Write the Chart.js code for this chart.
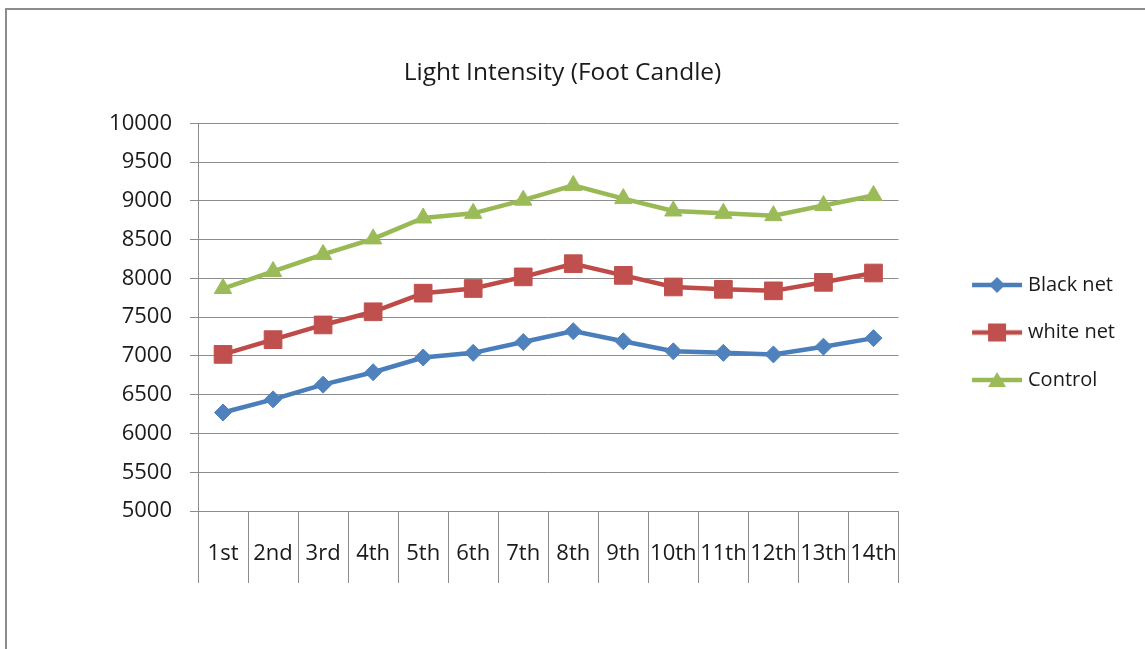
<!DOCTYPE html>
<html>
<head>
<meta charset="utf-8">
<script src="https://cdn.jsdelivr.net/npm/chart.js@4/dist/chart.umd.min.js"></script>
<style>
  html, body { margin: 0; padding: 0; background: #fff; overflow: hidden; }
  #wrap { position: relative; width: 1145px; height: 649px; }
  #frame { position: absolute; left: 5px; top: 8px; width: 1200px; height: 700px; border: 2px solid #8c8c8c; box-sizing: border-box; }
  #chart { position: absolute; left: 0; top: 0; }
</style>
</head>
<body>
<div id="wrap">
  <div id="frame"></div>
  <canvas id="chart" width="1145" height="649"></canvas>
</div>
<script>
// data
var days = ['1st','2nd','3rd','4th','5th','6th','7th','8th','9th','10th','11th','12th','13th','14th'];
var blackNet = [6270, 6440, 6630, 6790, 6980, 7040, 7180, 7320, 7190, 7060, 7040, 7020, 7120, 7230];
var whiteNet = [7020, 7210, 7400, 7570, 7810, 7870, 8020, 8190, 8040, 7890, 7860, 7840, 7950, 8070];
var control  = [7870, 8090, 8310, 8510, 8780, 8840, 9010, 9200, 9030, 8870, 8840, 8810, 8940, 9070];
var seriesNames = ['Black net', 'white net', 'Control'];

var lineCols = ['#4A7EBB', '#BE4B48', '#98B954'];
var markCols = ['#4F81BD', '#C0504D', '#9BBB59'];
var styles = ['rectRot', 'rect', 'triangle'];
var radii = [8.5, 12.5, 10];

// legend icons: line with the marker on it, blank space on the left
var iconBox = 92;
function makeIcon(i) {
  var c = document.createElement('canvas');
  c.width = iconBox + 10; c.height = 22;
  var g = c.getContext('2d');
  var ox = c.width - 52;
  g.strokeStyle = lineCols[i];
  g.lineWidth = 4.5;
  g.beginPath(); g.moveTo(ox + 1, 11); g.lineTo(ox + 51, 11); g.stroke();
  g.fillStyle = markCols[i];
  g.beginPath();
  if (i == 0) {
    g.moveTo(ox + 26, 3); g.lineTo(ox + 34, 11); g.lineTo(ox + 26, 19); g.lineTo(ox + 18, 11);
  } else if (i == 1) {
    g.rect(ox + 17, 2, 18, 18);
  } else {
    g.moveTo(ox + 26, 3); g.lineTo(ox + 35, 18); g.lineTo(ox + 17, 18);
  }
  g.closePath(); g.fill();
  return c;
}
var icons = [makeIcon(0), makeIcon(1), makeIcon(2)];

var values = [blackNet, whiteNet, control];
var sets = [];
for (let i = 0; i < values.length; i++) {
  sets.push({
    label: seriesNames[i],
    data: values[i],
    borderColor: lineCols[i],
    backgroundColor: markCols[i],
    borderWidth: 4.5,
    tension: 0,
    pointStyle: styles[i],
    pointRadius: radii[i],
    pointHoverRadius: radii[i],
    pointBackgroundColor: markCols[i],
    pointBorderColor: markCols[i],
    pointBorderWidth: 1
  });
}

var gridCol = '#8c8c8c';
var ctx = document.getElementById('chart');
var myChart = new Chart(ctx, {
  type: 'line',
  data: { labels: days, datasets: sets },
  options: {
    responsive: false,
    animation: false,
    layout: { padding: { left: 0, right: 20, top: 16, bottom: 0 } },
    plugins: {
      title: {
        display: true,
        text: 'Light Intensity (Foot Candle)',
        color: '#1a1a1a',
        font: { family: 'Open Sans', size: 24.5, weight: 'normal' },
        padding: { top: 42, bottom: 36 }
      },
      legend: {
        position: 'right',
        labels: {
          usePointStyle: true,
          pointStyleWidth: iconBox,
          color: '#1a1a1a',
          font: { family: 'Open Sans', size: 20 },
          padding: 27.5,
          generateLabels: function(chart) {
            var items = Chart.defaults.plugins.legend.labels.generateLabels(chart);
            items.forEach(function(it, i) { it.pointStyle = icons[i]; });
            return items;
          }
        }
      },
      tooltip: { enabled: false }
    },
    scales: {
      x: {
        offset: true,
        grid: { offset: true, drawOnChartArea: false, drawTicks: true, tickLength: 72, color: gridCol, lineWidth: 1 },
        border: { color: gridCol, width: 1 },
        ticks: { autoSkip: false, maxRotation: 0, color: '#1a1a1a', padding: -42, font: { family: 'Open Sans', size: 22 } },
        afterFit: function(scale) { scale.height = 138; }
      },
      y: {
        min: 5000,
        max: 10000,
        ticks: {
          stepSize: 500, color: '#1a1a1a', padding: 18, font: { family: 'Open Sans', size: 22 },
          callback: function(v) { return String(v); }
        },
        grid: { color: gridCol, lineWidth: 1, tickLength: 8 },
        border: { color: gridCol, width: 1 },
        afterFit: function(scale) { scale.width = 198; }
      }
    }
  }
});
</script>
</body>
</html>
